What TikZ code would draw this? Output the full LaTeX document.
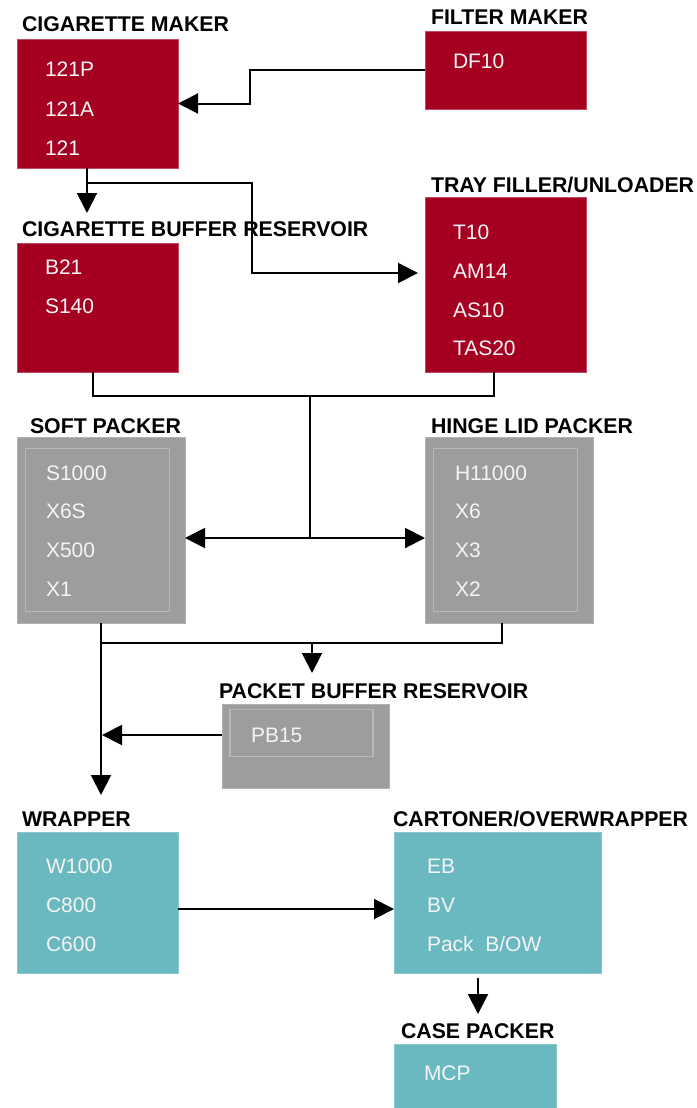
\documentclass[tikz,border=0pt]{standalone}
\usepackage{fontspec}
\setmainfont{Liberation Sans}
\usetikzlibrary{arrows.meta,calc}
\definecolor{boxred}{HTML}{A50021}
\definecolor{boxgray}{HTML}{9D9D9D}
\definecolor{innergray}{HTML}{B8B8B8}
\definecolor{boxteal}{HTML}{6BB9C0}
\definecolor{itemtext}{HTML}{F4F4F4}
\begin{document}
\begin{tikzpicture}[x=1pt,y=-1pt,
  every node/.style={inner sep=0pt,outer sep=0pt},
  redbox/.style={rectangle,anchor=north west,fill=boxred,draw=boxred!70!white,line width=0.8pt},
  graybox/.style={rectangle,anchor=north west,fill=boxgray,draw=boxgray!80!white,line width=0.8pt},
  innerbox/.style={rectangle,anchor=north west,draw=innergray,line width=1.3pt},
  tealbox/.style={rectangle,anchor=north west,fill=boxteal,draw=boxteal!80!white,line width=0.8pt},
  ttl/.style={anchor=base west,font=\fontsize{21.3}{25}\selectfont\bfseries,text=black},
  itm/.style={anchor=base west,font=\fontsize{21}{25}\selectfont,text=itemtext},
  conn/.style={line width=2pt,draw=black},
  arr/.style={conn,-{Triangle[length=20pt,width=20pt]}}]
\useasboundingbox (0,0) rectangle (696,1108);
\fill[white] (0,0) rectangle (696,1108);

% ---------- boxes ----------
\node[redbox,minimum width=161pt,minimum height=129pt] (cm) at (17,39) {};
\node[redbox,minimum width=161pt,minimum height=78pt] (fm) at (425,31) {};
\node[redbox,minimum width=161pt,minimum height=129pt] (cb) at (17,243) {};
\node[redbox,minimum width=161pt,minimum height=175pt] (tf) at (425,197) {};
\node[graybox,minimum width=168pt,minimum height=186pt] (sp) at (17,437) {};
\node[innerbox,minimum width=144pt,minimum height=163pt] (spi) at (25.5,448.5) {};
\node[graybox,minimum width=168pt,minimum height=186pt] (hl) at (425,437) {};
\node[innerbox,minimum width=144pt,minimum height=163pt] (hli) at (433.5,448.5) {};
\node[graybox,minimum width=167pt,minimum height=84pt] (pb) at (222,704) {};
\node[innerbox,minimum width=143pt,minimum height=47pt] (pbi) at (230,709.5) {};
\node[tealbox,minimum width=161pt,minimum height=141pt] (wr) at (17,832) {};
\node[tealbox,minimum width=207pt,minimum height=141pt] (co) at (394,832) {};
\node[tealbox,minimum width=162pt,minimum height=66pt] (cp) at (394,1044) {};

% ---------- titles ----------
\node[ttl] (tcm) at (22,32) {CIGARETTE MAKER};
\node[ttl] (tfm) at (431,25) {FILTER MAKER};
\node[ttl] (ttf) at (431,192) {TRAY FILLER/UNLOADER};
\node[ttl] (tcb) at (22,236) {CIGARETTE BUFFER RESERVOIR};
\node[ttl] (tsp) at (30,433) {SOFT PACKER};
\node[ttl] (thl) at (431,433) {HINGE LID PACKER};
\node[ttl] (tpb) at (219,698) {PACKET BUFFER RESERVOIR};
\node[ttl] (twr) at (22,826) {WRAPPER};
\node[ttl] (tco) at (393,826) {CARTONER/OVERWRAPPER};
\node[ttl] (tcp) at (401,1038) {CASE PACKER};

% ---------- items ----------
\node[itm] (i1) at (45,77) {121P};
\node[itm] (i2) at (45,116) {121A};
\node[itm] (i3) at (45,155) {121};
\node[itm] (i4) at (453,68) {DF10};
\node[itm] (i5) at (45,274) {B21};
\node[itm] (i6) at (45,313) {S140};
\node[itm] (i7) at (453,239) {T10};
\node[itm] (i8) at (453,278) {AM14};
\node[itm] (i9) at (453,317) {AS10};
\node[itm] (i10) at (453,355) {TAS20};
\node[itm] (i11) at (46,480) {S1000};
\node[itm] (i12) at (46,518.5) {X6S};
\node[itm] (i13) at (46,557) {X500};
\node[itm] (i14) at (46,596) {X1};
\node[itm] (i15) at (455,480) {H11000};
\node[itm] (i16) at (455,518.5) {X6};
\node[itm] (i17) at (455,557) {X3};
\node[itm] (i18) at (455,596) {X2};
\node[itm] (i19) at (251,742) {PB15};
\node[itm] (i20) at (46,873) {W1000};
\node[itm] (i21) at (46,912) {C800};
\node[itm] (i22) at (46,951) {C600};
\node[itm] (i23) at (427,873) {EB};
\node[itm] (i24) at (427,912) {BV};
\node[itm] (i25) at (427,951) {Pack\ \ B/OW};
\node[itm] (i26) at (424,1080) {MCP};

% ---------- coordinates ----------
\coordinate (fmj) at ($(fm.west)+(-175,0)$);
\coordinate (cmout) at ($(cm.south west)+(70,0)$);
\coordinate (cmtip) at ($(cm.south west)+(70,45)$);
\coordinate (brA) at ($(cm.south west)+(70,15)$);
\coordinate (brB) at ($(cm.south west)+(235,15)$);
\coordinate (tfin) at ($(tf.north west)+(-7,76)$);
\coordinate (cbout) at ($(cb.south west)+(76,0)$);
\coordinate (tfout) at ($(tf.south west)+(69,0)$);
\coordinate (jA) at ($(cb.south west)+(76,24)$);
\coordinate (jB) at ($(tf.south west)+(69,24)$);
\coordinate (jC) at ($(cb.south west)+(293,24)$);
\coordinate (jD) at ($(sp.north east)+(125,101)$);
\coordinate (spin) at ($(sp.north east)+(0,101)$);
\coordinate (hlin) at ($(hl.north west)+(0,101)$);
\coordinate (spout) at ($(sp.south west)+(84,0)$);
\coordinate (hlout) at ($(hl.south west)+(77,0)$);
\coordinate (kA) at ($(sp.south west)+(84,20)$);
\coordinate (kB) at ($(hl.south west)+(77,20)$);
\coordinate (kC) at ($(sp.south west)+(295,20)$);
\coordinate (kD) at ($(pb.north west)+(90,-31)$);
\coordinate (wrtip) at ($(wr.north west)+(84,-37)$);
\coordinate (pbout) at ($(pb.north west)+(0,31)$);
\coordinate (pbtip) at ($(pb.north west)+(-120,31)$);
\coordinate (wrout) at ($(wr.north east)+(0,77)$);
\coordinate (coin) at ($(co.north west)+(0,77)$);
\coordinate (coout) at ($(co.south west)+(84,5)$);
\coordinate (cotip) at ($(co.south west)+(84,41)$);

% ---------- connectors ----------
\draw[arr] (fm.west) -- (fmj) |- (cm.east);
\draw[arr] (cmout) -- (cmtip);
\draw[arr] (brA) -- (brB) |- (tfin);
\draw[conn] (cbout) -- (jA) -- (jB) -- (tfout);
\draw[conn] (jC) -- (jD);
\draw[arr] (jD) -- (spin);
\draw[arr] (jD) -- (hlin);
\draw[arr] (spout) -- (wrtip);
\draw[conn] (hlout) -- (kB) -- (kA);
\draw[arr] (kC) -- (kD);
\draw[arr] (pbout) -- (pbtip);
\draw[arr] (wrout) -- (coin);
\draw[arr] (coout) -- (cotip);
\end{tikzpicture}
\end{document}
